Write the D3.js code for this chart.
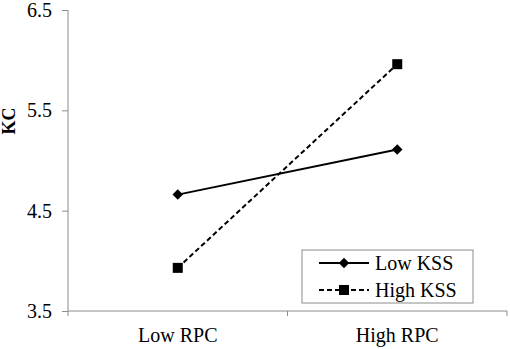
<!DOCTYPE html>
<html>
<head>
<meta charset="utf-8">
<script src="https://cdn.jsdelivr.net/npm/d3@7"></script>
<style>
body { margin: 0; background: #fff; }
</style>
</head>
<body>
<div id="chart"></div>
<script>
var categories = ["Low RPC", "High RPC"];
var lowKSS = [4.66, 5.11];
var highKSS = [3.93, 5.96];
var seriesNames = ["Low KSS", "High KSS"];
var yTicks = [3.5, 4.5, 5.5, 6.5];

var W = 510, H = 349;
var margin = {top: 10, right: 3, bottom: 38, left: 68};
var width = W - margin.left - margin.right,
    height = H - margin.top - margin.bottom;
var serif = "Liberation Serif";

var svg = d3.select("#chart")
  .append("svg")
  .attr("width", W)
  .attr("height", H)
  .attr("font-family", serif)
  .append("g")
  .attr("transform", "translate(" + margin.left + "," + margin.top + ")");

// X axis (band, ticks at boundaries like Excel)
var x = d3.scaleBand()
  .domain(categories)
  .range([0, width]);

var y = d3.scaleLinear()
  .domain([3.5, 6.5])
  .range([height, 0]);

var axisColor = "#8c8c8c";

// y axis
var yAxis = svg.append("g")
  .call(d3.axisLeft(y).tickValues(yTicks).tickFormat(d3.format(".1f")).tickSize(6).tickPadding(10));
yAxis.attr("font-family", serif).attr("font-size", 20);
yAxis.select(".domain").attr("stroke", axisColor).attr("d", "M0," + height + "V0");
yAxis.selectAll(".tick line").attr("stroke", axisColor);
yAxis.selectAll(".tick text").attr("fill", "#000");

// x axis line
var xg = svg.append("g").attr("transform", "translate(0," + height + ")");
xg.append("line")
  .attr("x1", 0).attr("x2", width)
  .attr("stroke", axisColor);
var bounds = [0].concat(categories.map(function(c) { return x(c) + x.bandwidth(); }));
xg.selectAll(".bt")
  .data(bounds)
  .enter()
  .append("line")
  .attr("x1", function(d) { return d; })
  .attr("x2", function(d) { return d; })
  .attr("y1", 0).attr("y2", 5)
  .attr("stroke", axisColor);
xg.selectAll(".cl")
  .data(categories)
  .enter()
  .append("text")
  .attr("x", function(d) { return x(d) + x.bandwidth() / 2; })
  .attr("y", 31)
  .attr("text-anchor", "middle")
  .attr("font-family", serif)
  .attr("font-size", 20)
  .text(function(d) { return d; });

// y label
svg.append("text")
  .attr("transform", "translate(" + (9 - margin.left) + "," + (121 - margin.top) + ")rotate(-90)")
  .attr("text-anchor", "middle")
  .attr("dy", "0.35em")
  .attr("font-family", serif)
  .attr("font-size", 18)
  .attr("font-weight", "bold")
  .text("KC");

var cx = function(i) { return x(categories[i]) + x.bandwidth() / 2; };
var line = d3.line()
  .x(function(d, i) { return cx(i); })
  .y(function(d) { return y(d); });

// Low KSS - solid with diamonds
svg.append("path")
  .datum(lowKSS)
  .attr("d", line)
  .attr("fill", "none")
  .attr("stroke", "#000")
  .attr("stroke-width", 2);
svg.selectAll(".dia")
  .data(lowKSS)
  .enter()
  .append("path")
  .attr("d", d3.symbol().type(d3.symbolDiamond2).size(70))
  .attr("transform", function(d, i) { return "translate(" + cx(i) + "," + y(d) + ")"; })
  .attr("fill", "#000");

// High KSS - dashed with squares
svg.append("path")
  .datum(highKSS)
  .attr("d", line)
  .attr("fill", "none")
  .attr("stroke", "#000")
  .attr("stroke-width", 2)
  .attr("stroke-dasharray", "5,3");
svg.selectAll(".sq")
  .data(highKSS)
  .enter()
  .append("rect")
  .attr("x", function(d, i) { return cx(i) - 5; })
  .attr("y", function(d) { return y(d) - 5; })
  .attr("width", 10)
  .attr("height", 10)
  .attr("fill", "#000");

// legend
var lg = svg.append("g").attr("transform", "translate(" + (302 - margin.left) + "," + (250 - margin.top) + ")");
lg.append("rect")
  .attr("width", 171).attr("height", 53)
  .attr("fill", "#fff")
  .attr("stroke", axisColor);
seriesNames.forEach(function(name, i) {
  var ry = 13 + i * 27;
  lg.append("line")
    .attr("x1", 17).attr("x2", 67)
    .attr("y1", ry).attr("y2", ry)
    .attr("stroke", "#000")
    .attr("stroke-width", 2)
    .attr("stroke-dasharray", i === 1 ? "5,3" : null);
  if (i === 0) {
    lg.append("path")
      .attr("d", d3.symbol().type(d3.symbolDiamond2).size(70))
      .attr("transform", "translate(42," + ry + ")");
  } else {
    lg.append("rect")
      .attr("x", 37).attr("y", ry - 5)
      .attr("width", 10).attr("height", 10);
  }
  lg.append("text")
    .attr("x", 73)
    .attr("y", ry)
    .attr("dy", "0.35em")
    .attr("font-family", serif)
    .attr("font-size", 20)
    .text(name);
});
</script>
</body>
</html>
